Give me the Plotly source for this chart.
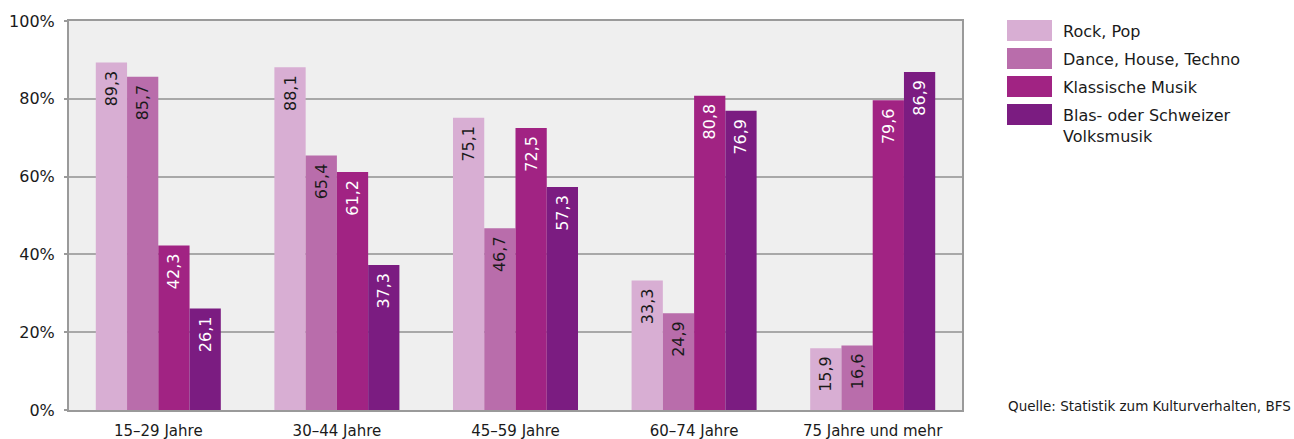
import plotly.graph_objects as go

categories = ["15–29 Jahre", "30–44 Jahre", "45–59 Jahre", "60–74 Jahre", "75 Jahre und mehr"]
series_names = ["Rock, Pop", "Dance, House, Techno", "Klassische Musik", "Blas- oder Schweizer<br>Volksmusik"]
rock_pop = [89.3, 88.1, 75.1, 33.3, 15.9]
dance = [85.7, 65.4, 46.7, 24.9, 16.6]
klassik = [42.3, 61.2, 72.5, 80.8, 79.6]
volksmusik = [26.1, 37.3, 57.3, 76.9, 86.9]
y_ticks = [0, 20, 40, 60, 80, 100]
y_ticklabels = ["0%", "20%", "40%", "60%", "80%", "100%"]
source = "Quelle: Statistik zum Kulturverhalten, BFS"

colors = ["#d8aed3", "#b96dab", "#a12383", "#7b1c81"]
text_colors = ["#1a1a1a", "#1a1a1a", "#ffffff", "#ffffff"]
FONT = "DejaVu Sans, Verdana, sans-serif"

W, H = 1294, 439
L, R, T, B = 69, 962, 21, 410

fig = go.Figure()
all_series = [rock_pop, dance, klassik, volksmusik]
for vals, name, c, tc in zip(all_series, series_names, colors, text_colors):
    fig.add_trace(go.Bar(
        x=categories, y=vals, name=name,
        marker=dict(color=c, line=dict(width=0)),
        text=[f"{v:.1f}".replace(".", ",") + "\u00a0" for v in vals],
        textposition="inside", insidetextanchor="end", textangle=-90,
        insidetextfont=dict(color=tc, size=16, family=FONT),
        constraintext="none",
        showlegend=False, hoverinfo="skip",
    ))

def px_x(p):
    return (p - L) / (R - L)

def px_y(p):
    return (B - p) / (B - T)

shapes = []
annotations = []
rows = [(20, 41, 31), (48, 69, 59), (76, 97, 87), (104, 125, 115)]
for (y0, y1, yc), name, c in zip(rows, series_names, colors):
    shapes.append(dict(type="rect", xref="paper", yref="paper",
                       x0=px_x(1007), x1=px_x(1052), y0=px_y(y1), y1=px_y(y0),
                       fillcolor=c, line=dict(width=0)))
    annotations.append(dict(xref="paper", yref="paper", x=px_x(1061), y=px_y(yc - 11),
                            xanchor="left", yanchor="top", text=name, showarrow=False,
                            align="left", font=dict(size=16, color="#1a1a1a", family=FONT)))
annotations.append(dict(xref="paper", yref="paper", x=px_x(1006), y=px_y(406),
                        xanchor="left", yanchor="middle", text=source, showarrow=False,
                        font=dict(size=13.5, color="#1a1a1a", family=FONT)))

fig.update_layout(
    width=W, height=H,
    margin=dict(l=L, r=W - R, t=T, b=H - B, pad=0, autoexpand=False),
    paper_bgcolor="white", plot_bgcolor="#efefef",
    barmode="group", bargap=0.3, bargroupgap=0,
    font=dict(family=FONT, color="#1a1a1a"),
    shapes=shapes, annotations=annotations,
    xaxis=dict(showline=True, linecolor="#9a9a9a", linewidth=2, mirror=True,
               ticks="", tickfont=dict(size=15), showgrid=False,
               ticklabelstandoff=6, automargin=False),
    yaxis=dict(range=[0, 100], tickvals=y_ticks, ticktext=y_ticklabels,
               showline=True, linecolor="#9a9a9a", linewidth=2, mirror=True,
               gridcolor="#a8a8a8", gridwidth=1.5,
               ticks="outside", ticklen=3, tickcolor="#9a9a9a", tickwidth=1.5,
               tickfont=dict(size=16), zeroline=False, ticklabelstandoff=6,
               automargin=False),
    uniformtext=dict(minsize=8, mode="show"),
)

fig.write_html("out.html", config={"displayModeBar": False},
               post_script="document.body.style.margin='0';")
